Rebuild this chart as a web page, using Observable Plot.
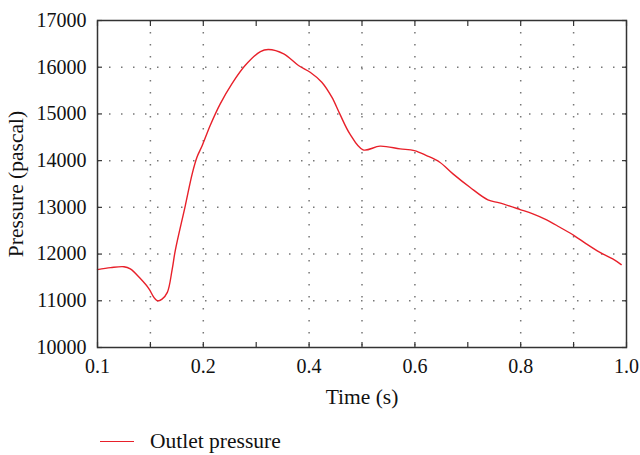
<!DOCTYPE html>
<html><head><meta charset="utf-8">
<script src="https://cdn.jsdelivr.net/npm/d3@7"></script>
<script src="https://cdn.jsdelivr.net/npm/@observablehq/plot@0.6"></script>
<style>
body{margin:0;background:#fff;font-family:"Liberation Serif",serif;}
#legend{display:flex;align-items:center;height:42px;padding-left:100px;font-size:21.5px;color:#111;}
#legend .sw{width:34px;border-top:1.4px solid #e8202a;margin-right:16px;}
</style></head><body><div id="chart"></div><div id="legend"><span class="sw"></span><span>Outlet pressure</span></div>
<script>
const time = [0.000,0.025,0.050,0.062,0.081,0.097,0.106,0.113,0.122,0.132,0.141,0.147,0.166,0.179,0.188,0.198,0.213,0.232,0.254,0.279,0.308,0.323,0.352,0.380,0.402,0.424,0.443,0.458,0.477,0.502,0.534,0.572,0.599,0.622,0.647,0.672,0.704,0.738,0.760,0.799,0.823,0.849,0.874,0.901,0.924,0.949,0.974,0.990];
const pressure = [11668,11710,11730,11683,11476,11262,11083,11000,11036,11180,11662,12075,13039,13718,14073,14323,14752,15216,15645,16036,16336,16380,16287,16036,15893,15679,15358,15000,14573,14231,14310,14253,14216,14109,13966,13717,13430,13160,13096,12953,12860,12732,12574,12396,12218,12040,11897,11775];
const xTickValues = [0, 0.2, 0.4, 0.6, 0.8, 1.0];
const xTickLabels = ["0.1", "0.2", "0.4", "0.6", "0.8", "1.0"];
const xMinorTicks = [0, 0.1, 0.2, 0.3, 0.4, 0.5, 0.6, 0.7, 0.8, 0.9, 1.0];
const xGrid = [0.1, 0.2, 0.4, 0.5, 0.6, 0.8, 0.9];
const yTicks = [10000, 11000, 12000, 13000, 14000, 15000, 16000, 17000];
const yGrid = [11000, 12000, 13000, 14000, 15000, 16000];

const data = time.map((t, i) => ({t, p: pressure[i]}));
const gridStyle = {stroke: "#777", strokeOpacity: 1, strokeWidth: 1.5, strokeDasharray: "1.5,10.5"};
const tickStyle = {tickSize: -5, tickFormat: () => "", label: null, stroke: "#333", strokeWidth: 1.2};

const chart = Plot.plot({
  width: 640, height: 420,
  marginTop: 20, marginBottom: 73, marginLeft: 97, marginRight: 14,
  style: {fontFamily: "Liberation Serif, serif", fontSize: "20px", color: "#111", background: "#fff"},
  x: {domain: [0, 1]},
  y: {domain: [10000, 17000]},
  marks: [
    Plot.gridY(yGrid, gridStyle),
    Plot.gridX(xGrid, gridStyle),
    Plot.axisX(xMinorTicks, {anchor: "bottom", ...tickStyle}),
    Plot.axisX(xMinorTicks, {anchor: "top", ...tickStyle}),
    Plot.axisY(yTicks, {anchor: "left", ...tickStyle}),
    Plot.axisY(yTicks, {anchor: "right", ...tickStyle}),
    Plot.axisX(xTickValues, {anchor: "bottom", tickSize: 0, tickPadding: 11, fontSize: 20,
      tickFormat: d => xTickLabels[xTickValues.indexOf(d)], label: null}),
    Plot.axisX(xTickValues, {anchor: "bottom", tickSize: 0, tickFormat: () => "", fontSize: 21.5,
      label: "Time (s)", labelAnchor: "center", labelArrow: "none", labelOffset: 56}),
    Plot.axisY(yTicks, {anchor: "left", tickSize: 0, tickPadding: 11, fontSize: 20,
      tickFormat: d => String(d), label: null}),
    Plot.axisY(yTicks, {anchor: "left", tickSize: 0, tickFormat: () => "", fontSize: 21.5,
      label: "Pressure (pascal)", labelAnchor: "center", labelArrow: "none", labelOffset: 90}),
    Plot.line(data, {x: "t", y: "p", stroke: "#e8202a", strokeWidth: 1.4, curve: "catmull-rom"}),
    Plot.frame({stroke: "#333", strokeWidth: 1.5})
  ]
});
document.getElementById("chart").appendChild(chart);
</script></body></html>
